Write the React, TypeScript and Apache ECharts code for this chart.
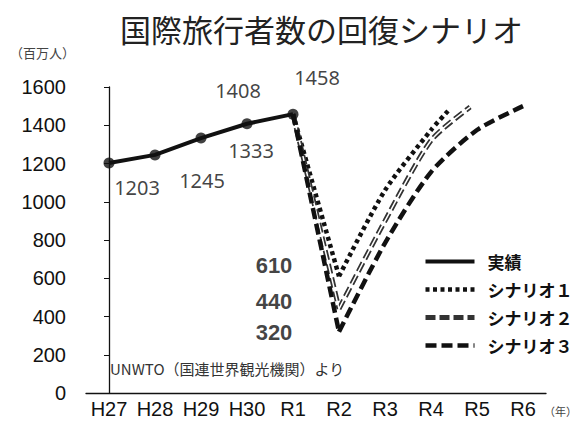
import { useEffect, useRef } from 'react';
import * as echarts from 'echarts';

const categories = ['H27', 'H28', 'H29', 'H30', 'R1', 'R2', 'R3', 'R4', 'R5', 'R6'];
const actualValues = [1203, 1245, 1333, 1408, 1458];
const scenario1X = [4, 5, 6, 7, 7.37];
const scenario1Y = [1458, 610, 1060, 1375, 1475];
const scenario2X = [4, 5, 6, 7, 7.85];
const scenario2Y = [1458, 440, 900, 1320, 1495];
const scenario3X = [4, 5, 6, 7, 8, 9];
const scenario3Y = [1458, 320, 784, 1155, 1375, 1500];
const legendNames = ['実績', 'シナリオ１', 'シナリオ２', 'シナリオ３'];
const sourceNote = 'UNWTO（国連世界観光機関）より';
const yUnit = '（百万人）';
const xUnit = '（年）';

// label offsets for the 実績 values (style only)
const actualLabelOffsets = [[28, 25], [47, 26], [50, 12], [-9, -33], [24, -37]];
const r2LabelOffsets = [[-65, -11], [-65, -7], [-65, 1]];

const pts = (xs: number[], ys: number[], from: number, to?: number) =>
  xs.slice(from, to).map((x, i) => [x, ys[from + i]]);

const CJK = 'Noto Sans CJK JP';

export default function App() {
  const ref = useRef<HTMLDivElement>(null);
  useEffect(() => {
    if (!ref.current) return;
    const chart = echarts.init(ref.current, undefined, { renderer: 'svg' });
    const s1Style = { color: '#111', width: 4.5, type: [4, 3.5] as any };
    const s2Style = { color: '#333', width: 5, type: [10, 4] as any };
    const s2Inner = { color: '#fff', width: 1.5, type: 'solid' as any };
    const s3Style = { color: '#111', width: 4.5, type: [11, 5] as any };
    const lineBase = {
      type: 'line' as const,
      xAxisIndex: 1,
      symbol: 'none',
      showSymbol: false,
    };
    const smoothing = 0.25;
    const r2Values = [scenario1Y[1], scenario2Y[1], scenario3Y[1]];
    const option: any = {
      animation: false,
      title: {
        text: '国際旅行者数の回復シナリオ',
        left: 115,
        top: 8,
        textStyle: { fontSize: 31, fontWeight: 'normal', color: '#222', fontFamily: CJK },
      },
      grid: { left: 86, right: 32, top: 87, bottom: 39, containLabel: false },
      legend: {
        orient: 'vertical',
        left: 418,
        top: 248,
        itemWidth: 49,
        itemHeight: 14,
        itemGap: 11,
        data: legendNames,
        itemStyle: { opacity: 0 },
        lineStyle: { width: 'inherit' },
        textStyle: {
          fontSize: 17,
          fontWeight: 'bold',
          color: '#111',
          fontFamily: CJK,
          lineHeight: 17,
          padding: [0, 0, 0, 8],
        },
      },
      xAxis: [
        {
          type: 'category',
          data: categories,
          boundaryGap: true,
          axisLine: { lineStyle: { color: '#111', width: 1.3 } },
          axisTick: { inside: true, length: 4, alignWithLabel: true, lineStyle: { color: '#111' } },
          axisLabel: { interval: 0, fontSize: 20, color: '#111', fontFamily: 'Liberation Sans', margin: 6 },
          splitLine: { show: false },
        },
        { type: 'value', min: -0.5, max: 9.5, show: false },
      ],
      yAxis: {
        type: 'value',
        min: 0,
        max: 1600,
        interval: 200,
        axisLine: { show: true, lineStyle: { color: '#111', width: 1.3 } },
        axisTick: { show: true, length: 5, lineStyle: { color: '#111' } },
        axisLabel: {
          fontSize: 20,
          color: '#111',
          fontFamily: 'Liberation Sans',
          margin: 20,
          formatter: (v: number) => String(v),
        },
        splitLine: { show: false },
      },
      graphic: [
        { type: 'text', left: 10, top: 46, style: { text: yUnit, fontSize: 13, fill: '#444', fontFamily: CJK } },
        { type: 'text', left: 110, top: 361, style: { text: sourceNote, fontSize: 15, fill: '#333', fontFamily: CJK } },
        { type: 'text', left: 544, top: 405, style: { text: xUnit, fontSize: 11, fill: '#444', fontFamily: CJK } },
      ],
      series: [
        { ...lineBase, name: legendNames[1], data: pts(scenario1X, scenario1Y, 0, 2), lineStyle: s1Style },
        { ...lineBase, name: legendNames[1], data: pts(scenario1X, scenario1Y, 1), lineStyle: s1Style, smooth: smoothing },
        { ...lineBase, name: legendNames[2], data: pts(scenario2X, scenario2Y, 0, 2), lineStyle: s2Style },
        { ...lineBase, name: legendNames[2], data: pts(scenario2X, scenario2Y, 1), lineStyle: s2Style, smooth: smoothing },
        { ...lineBase, name: 's2inner', silent: true, data: pts(scenario2X, scenario2Y, 0, 2), lineStyle: s2Inner },
        { ...lineBase, name: 's2inner', silent: true, data: pts(scenario2X, scenario2Y, 1), lineStyle: s2Inner, smooth: smoothing },
        { ...lineBase, name: legendNames[3], data: pts(scenario3X, scenario3Y, 0, 2), lineStyle: s3Style },
        { ...lineBase, name: legendNames[3], data: pts(scenario3X, scenario3Y, 1), lineStyle: s3Style, smooth: smoothing },
        {
          ...lineBase,
          name: legendNames[0],
          data: actualValues.map((v, i) => [i, v]),
          lineStyle: { color: '#111', width: 4 },
        },
        {
          type: 'scatter',
          name: 'actualDots',
          xAxisIndex: 1,
          symbol: 'circle',
          symbolSize: 11,
          itemStyle: { color: '#111' },
          z: 5,
          data: actualValues.map((v, i) => ({
            value: [i, v],
            label: {
              show: true,
              position: 'inside',
              offset: actualLabelOffsets[i],
              formatter: String(v),
              fontSize: 20,
              color: '#111',
              fontFamily: 'Noto Sans',
            },
          })),
        },
        {
          type: 'scatter',
          name: 'r2Labels',
          xAxisIndex: 1,
          symbolSize: 1,
          itemStyle: { color: 'rgba(0,0,0,0)' },
          silent: true,
          data: r2Values.map((v, i) => ({
            value: [5, v],
            label: {
              show: true,
              position: 'inside',
              offset: r2LabelOffsets[i],
              formatter: String(v),
              fontSize: 22,
              fontWeight: 'bold',
              color: '#111',
              fontFamily: 'Liberation Sans',
            },
          })),
        },
      ],
    };
    chart.setOption(option);
    return () => chart.dispose();
  }, []);
  return <div ref={ref} style={{ width: 578, height: 432, position: 'absolute', left: 0, top: 0 }} />;
}
